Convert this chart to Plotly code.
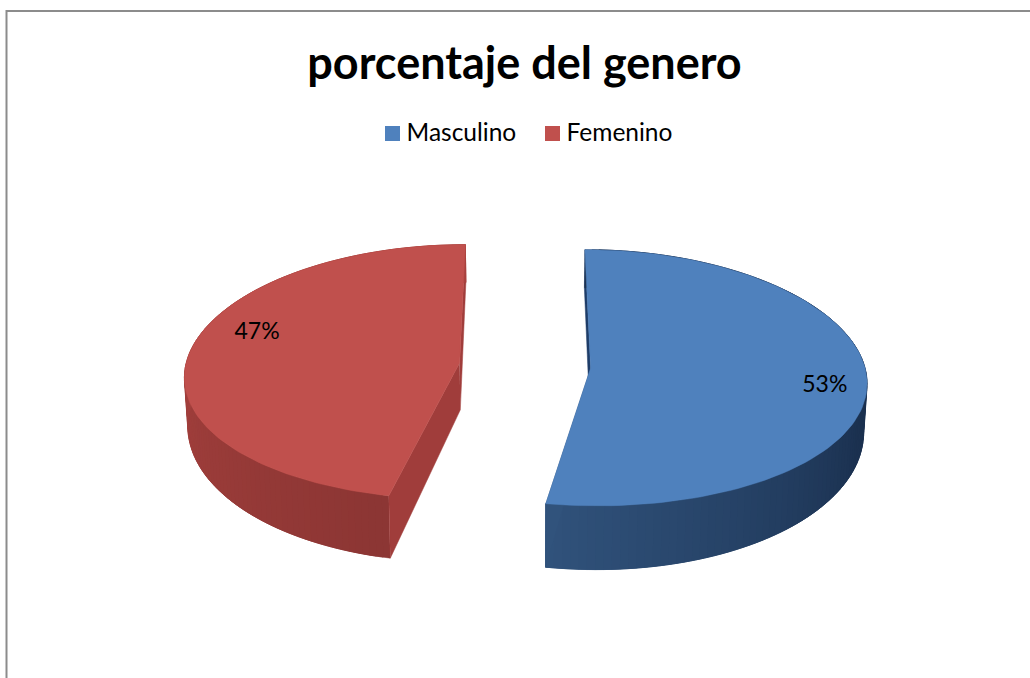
import numpy as np
import plotly.graph_objects as go

titulo = "porcentaje del genero"
categorias = ["Masculino", "Femenino"]
porcentajes = [53, 47]

color_top = ["#4f81bd", "#c0504d"]
color_wall_a = ["#31537c", "#8c3634"]   # wall colour at the front edge of the slice
color_wall_b = ["#1b3150", "#a8423f"]   # wall colour at the far end of the wall
color_cut = ["#1e3d68", "#a03d3b"]

W, H = 1030, 678

# fake 3d pie: camera settings in pixels
X0, Y0 = 525, 365.5
RX, RY = 274, 127
KX, KY, KH, KZ = 0.095, 0.073, 0.25, 0.01
THICK = 47.5
EXPLODE = 0.24
FRONT_GAP = [1.0, 1.5]  # degrees, the slices look pinched at the front edge
LABEL_R = [0.85, 0.80]
LABEL_SHIFT = [4, 12]   # degrees, excel moved the labels a bit


def project(u, v, z):
    u, v = np.asarray(u, float), np.asarray(v, float)
    sx = 1 / (1 + KX * v + KZ * z)
    sy = 1 / (1 + KY * v)
    sh = 1 / (1 + KH * v)
    return X0 + RX * u * sx, Y0 - RY * v * sy + THICK * z * sh


def poly(fig, x, y, color):
    fig.add_trace(go.Scatter(x=list(x), y=list(y), fill="toself", fillcolor=color, mode="lines",
                             line=dict(color=color, width=0.5), hoverinfo="skip", showlegend=False))


def mix(c1, c2, f):
    a = [int(c1[i:i + 2], 16) for i in (1, 3, 5)]
    b = [int(c2[i:i + 2], 16) for i in (1, 3, 5)]
    return "rgb(%d,%d,%d)" % tuple(a[i] + (b[i] - a[i]) * f for i in range(3))


fig = go.Figure()

total = sum(porcentajes)
start = 0.0
for i, p in enumerate(porcentajes):
    end = start + p / total * 2 * np.pi
    mid = (start + end) / 2
    cu, cv = EXPLODE * np.sin(mid), EXPLODE * np.cos(mid)
    gap = np.radians(FRONT_GAP[i])
    if i == 0:
        t = np.linspace(start, end - gap, 121)
    else:
        t = np.linspace(start + gap, end, 121)
    ru, rv = cu + np.sin(t), cv + np.cos(t)

    # back cut face, outer wall, front cut face, then the top
    back = 0 if i == 0 else -1
    front = -1 if i == 0 else 0
    xa, ya = project([cu, ru[back], ru[back], cu], [cv, rv[back], rv[back], cv], np.array([0, 0, 1, 1]))
    poly(fig, xa, ya, color_cut[i])

    for j in range(len(t) - 1):
        e = min(j + 3, len(t) - 1)  # overlap the strips so no seams show
        uu = [ru[j], ru[e], ru[e], ru[j]]
        vv = [rv[j], rv[e], rv[e], rv[j]]
        xa, ya = project(uu, vv, np.array([0, 0, 1, 1]))
        f = abs(t[j] - t[front]) / ((0.42 if i == 0 else 0.55) * (end - start))
        poly(fig, xa, ya, mix(color_wall_a[i], color_wall_b[i], min(f, 1)))

    xa, ya = project([cu, ru[front], ru[front], cu], [cv, rv[front], rv[front], cv], np.array([0, 0, 1, 1]))
    poly(fig, xa, ya, color_cut[i] if i == 1 else color_wall_a[i])

    xa, ya = project(np.r_[cu, ru, cu], np.r_[cv, rv, cv], np.zeros(len(t) + 2))
    poly(fig, xa, ya, color_top[i])

    # data label
    la = mid + np.radians(LABEL_SHIFT[i])
    lx, ly = project([cu + LABEL_R[i] * np.sin(la)], [cv + LABEL_R[i] * np.cos(la)], np.zeros(1))
    fig.add_trace(go.Scatter(x=lx, y=ly, mode="text", text=["%d%%" % p], showlegend=False,
                             textfont=dict(family="Lato", size=23, color="#000000"), hoverinfo="skip"))
    start = end

# legend, drawn by hand because plotly's gap between swatch and text is too wide
leg_x = [392.5, 552.5]
for i, c in enumerate(categorias):
    fig.add_trace(go.Scatter(x=[leg_x[i]], y=[133.5], mode="markers", name=c, showlegend=False,
                             marker=dict(symbol="square", size=15, color=color_top[i])))
    fig.add_trace(go.Scatter(x=[leg_x[i] + 14], y=[135], mode="text", text=[c], textposition="middle right",
                             textfont=dict(family="Lato", size=24.5, color="#000000"),
                             hoverinfo="skip", showlegend=False))

fig.update_xaxes(range=[0, W], visible=False, fixedrange=True)
fig.update_yaxes(range=[H, 0], visible=False, fixedrange=True)
fig.update_layout(
    width=W, height=H, margin=dict(l=0, r=0, t=0, b=0),
    plot_bgcolor="white", paper_bgcolor="white", showlegend=False,
    title=dict(text="<b>" + titulo + "</b>", x=524.5 / W, xanchor="center", y=1 - 63 / H, yanchor="middle",
               font=dict(family="Lato", size=45, color="#000000")),
    shapes=[
        dict(type="line", x0=6.5, x1=6.5, y0=10, y1=H, line=dict(color="#8c8c8c", width=2)),
        dict(type="line", x0=6, x1=W, y0=11, y1=11, line=dict(color="#8c8c8c", width=2)),
    ],
)

# the page has a default body margin that would push everything 8px
fig.write_html("out.html", config=dict(displayModeBar=False),
               post_script="document.body.style.margin='0';document.body.style.overflow='hidden';")
